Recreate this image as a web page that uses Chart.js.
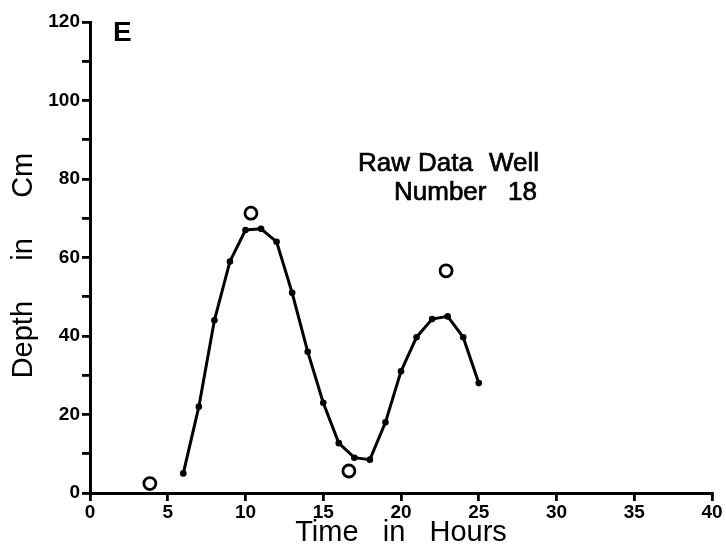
<!DOCTYPE html>
<html>
<head>
<meta charset="utf-8">
<script src="https://cdn.jsdelivr.net/npm/chart.js@4/dist/chart.umd.min.js"></script>
<style>
  html, body { margin: 0; padding: 0; background: #fff; }
  #wrap { width: 726px; height: 547px; }
</style>
</head>
<body>
<div id="wrap"><canvas id="chart"></canvas></div>
<script>
"use strict";

// smoothed depth curve (filled dots)
const hours  = [6, 7, 8, 9, 10, 11, 12, 13, 14, 15, 16, 17, 18, 19, 20, 21, 22, 23, 24, 25];
const depth  = [5, 22, 44, 59, 67, 67.3, 64, 51, 36, 23, 12.7, 9, 8.5, 18, 31, 39.7, 44.3, 45, 39.7, 28];

// raw data readings (open circles)
const rawHours = [3.85, 10.35, 16.65, 22.9];
const rawDepth = [2.4, 71.3, 5.6, 56.6];

const xTicks = [0, 5, 10, 15, 20, 25, 30, 35, 40];
const yTicks = [0, 20, 40, 60, 80, 100, 120];

const FONT = "'Liberation Sans', Arial, Helvetica, sans-serif";

/* ---------- text drawn on top: panel letter + note ---------- */
const notes = {
  id: "notes",
  afterDraw(c) {
    const ctx = c.ctx;
    ctx.save();
    ctx.fillStyle = "#000";
    ctx.strokeStyle = "#000";
    ctx.textBaseline = "alphabetic";
    ctx.textAlign = "left";
    ctx.font = "bold 28px " + FONT;
    ctx.fillText("E", 113, 41);
    ctx.font = "26px " + FONT;
    ctx.lineWidth = 0.7;
    [["Raw", 358, 171], ["Data", 418, 171], ["Well", 489, 171],
     ["Number", 394, 200], ["18", 508, 200]].forEach(([t, x, y]) => {
      ctx.fillText(t, x, y);
      ctx.strokeText(t, x, y);
    });
    ctx.restore();
  }
};

const tickFont = { family: FONT, size: 19, weight: "bold" };

new Chart(document.getElementById("chart"), {
  type: "scatter",
  data: {
    datasets: [
      { label: "curve", data: hours.map((h, i) => ({ x: h, y: depth[i] })),
        showLine: true, tension: 0, borderColor: "#000", borderWidth: 3,
        pointRadius: 3.3, pointBackgroundColor: "#000", pointBorderWidth: 0, clip: false },
      { label: "raw", data: rawHours.map((h, i) => ({ x: h, y: rawDepth[i] })),
        showLine: false, pointRadius: 6, pointBorderWidth: 2.8,
        pointBorderColor: "#000", pointBackgroundColor: "#fff", clip: false }
    ]
  },
  options: {
    responsive: true, maintainAspectRatio: false, animation: false,
    layout: { padding: { left: 0, top: 22, right: 14, bottom: 0 } },
    plugins: { legend: { display: false }, tooltip: { enabled: false } },
    scales: {
      x: {
        type: "linear", min: 0, max: 40,
        afterFit: s => { s.height = 54; },
        afterBuildTicks: s => { s.ticks = xTicks.map(v => ({ value: v })); },
        grid: { drawOnChartArea: false, drawTicks: true, tickLength: 8, color: "#000", lineWidth: 2.8 },
        border: { display: true, color: "#000", width: 3 },
        ticks: { color: "#000", font: tickFont, padding: 0, maxRotation: 0, autoSkip: false },
        title: { display: true, text: "Time   in   Hours", color: "#000",
          font: { family: FONT, size: 29 }, padding: { top: 0, bottom: -3 } }
      },
      y: {
        type: "linear", min: 0, max: 120,
        afterFit: s => { s.width = 90; },
        ticks: { stepSize: 10, color: "#000", font: tickFont, padding: 2, autoSkip: false,
          callback: v => (yTicks.includes(v) ? String(v) : "") },
        grid: { drawOnChartArea: false, drawTicks: true, tickLength: 8, color: "#000", lineWidth: 2.8 },
        border: { display: true, color: "#000", width: 3 },
        title: { display: true, text: "Depth     in     Cm  ", color: "#000",
          font: { family: FONT, size: 29 }, padding: { top: 7, bottom: 0 } }
      }
    }
  },
  plugins: [notes]
});
</script>
</body>
</html>
